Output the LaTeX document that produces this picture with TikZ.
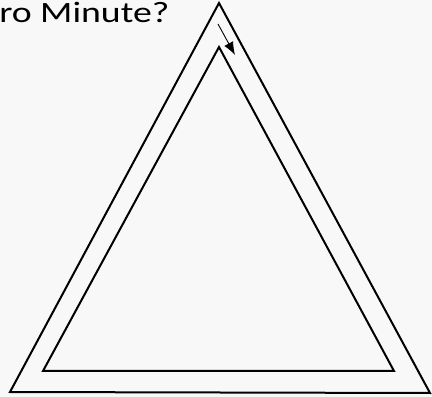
\documentclass[tikz,border=0pt]{standalone}
\usepackage{fontspec}
\setmainfont{Carlito}
\usetikzlibrary{arrows.meta}
\definecolor{bgc}{RGB}{248,248,248}
\begin{document}
\begin{tikzpicture}[x=1pt,y=1pt,
  tri/.style={draw=black,line width=2pt,line join=miter},
  arr/.style={draw=black,line width=0.9pt,-{Latex[length=13pt,width=10pt]}},
  title/.style={anchor=base west,inner sep=0pt,font=\fontsize{29.5}{32}\selectfont,xscale=1.28}]
\fill[bgc] (0,0) rectangle (432,397);
\useasboundingbox (0,0) rectangle (432,397);
\coordinate (oA) at (219,394);
\coordinate (oB) at (10,5);
\coordinate (oC) at (430,4);
\coordinate (iA) at (219,350);
\coordinate (iB) at (43,26);
\coordinate (iC) at (394,26);
\coordinate (s) at (218,373);
\coordinate (t) at (235,342);
\draw[tri] (oA) -- (oB) -- (oC) -- cycle;
\draw[tri] (iA) -- (iB) -- (iC) -- cycle;
\draw[arr] (s) -- (t);
\node[title] (ttl) at (-1,374) {ro Minute?};
\end{tikzpicture}
\end{document}
